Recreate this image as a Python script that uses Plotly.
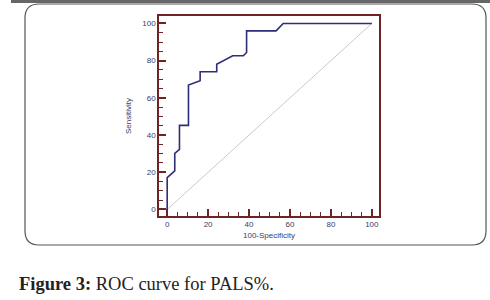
import plotly.graph_objects as go

# ROC curve data (100-Specificity, Sensitivity)
fpr = [0, 0, 3.7, 3.7, 6.0, 6.0, 10.4, 10.4, 16.1, 16.1, 24.2, 24.2, 32.0, 37.2, 38.8, 38.8, 53.2, 56.7, 100]
tpr = [0, 17.1, 20.8, 30.2, 32.3, 45.2, 45.2, 66.9, 69.2, 74.0, 74.0, 78.1, 82.6, 82.6, 84.4, 96.0, 96.0, 100, 100]
ref_x = [0, 100]
ref_y = [0, 100]
tick_vals = [0, 20, 40, 60, 80, 100]
tick_text = ["0", "20", "40", "60", "80", "100"]

W, H = 490, 300
L, R, T, B = 159, 379, 16, 216

def px(x):
    return (x - L) / (R - L)

def py(y):
    return (B - y) / (B - T)

frame = "#6e2424"
labc = "#3b3b6b"

fig = go.Figure()
fig.add_trace(go.Scatter(x=ref_x, y=ref_y, mode="lines",
                         line=dict(color="#c9c9c9", width=1), hoverinfo="skip"))
fig.add_trace(go.Scatter(x=fpr, y=tpr, mode="lines",
                         line=dict(color="#2e2e78", width=1.6)))

axis_common = dict(
    showline=True, mirror=True, linecolor=frame, linewidth=1.5,
    ticks="inside", ticklen=7, tickwidth=1.5, tickcolor=frame,
    tickvals=tick_vals, ticktext=tick_text,
    minor=dict(dtick=5, tick0=0, ticks="inside", ticklen=4, tickwidth=1.2, tickcolor=frame, showgrid=False),
    showgrid=False, zeroline=False,
    tickfont=dict(family="Liberation Sans", size=8, color=labc),
)

fig.update_layout(
    width=W, height=H,
    margin=dict(l=L, r=W - R, t=T, b=H - B),
    paper_bgcolor="white", plot_bgcolor="white",
    showlegend=False,
    xaxis=dict(range=[-4, 103.5], title=dict(text="100-Specificity", standoff=4,
               font=dict(family="Liberation Sans", size=8, color=labc)), **axis_common),
    yaxis=dict(range=[-3.5, 104], title=dict(text="Sensitivity", standoff=9,
               font=dict(family="Liberation Sans", size=8, color=labc)), **axis_common),
)

# Outer rounded box
x0, x1, y0, y1, r = 25, 486, 4, 245, 14
path = (f"M {px(x0+r)},{py(y0)} L {px(x1-r)},{py(y0)} Q {px(x1)},{py(y0)} {px(x1)},{py(y0+r)} "
        f"L {px(x1)},{py(y1-r)} Q {px(x1)},{py(y1)} {px(x1-r)},{py(y1)} "
        f"L {px(x0+r)},{py(y1)} Q {px(x0)},{py(y1)} {px(x0)},{py(y1-r)} "
        f"L {px(x0)},{py(y0+r)} Q {px(x0)},{py(y0)} {px(x0+r)},{py(y0)} Z")
fig.add_shape(type="path", xref="paper", yref="paper", path=path,
              line=dict(color="#555555", width=1.2), layer="below")
# Top gray bar
fig.add_shape(type="rect", xref="paper", yref="paper",
              x0=px(11), x1=px(490), y0=py(0), y1=py(3),
              line=dict(width=0), fillcolor="#666666")

fig.add_annotation(xref="paper", yref="paper", x=px(17), y=py(284),
                   xanchor="left", yanchor="middle", showarrow=False,
                   text="<b>Figure 3:</b> ROC curve for PALS%.",
                   font=dict(family="Liberation Serif", size=18.5, color="#222222"))

fig.write_html("out.html", config={"displayModeBar": False},
               post_script="document.body.style.margin='0';document.body.style.padding='0';")
